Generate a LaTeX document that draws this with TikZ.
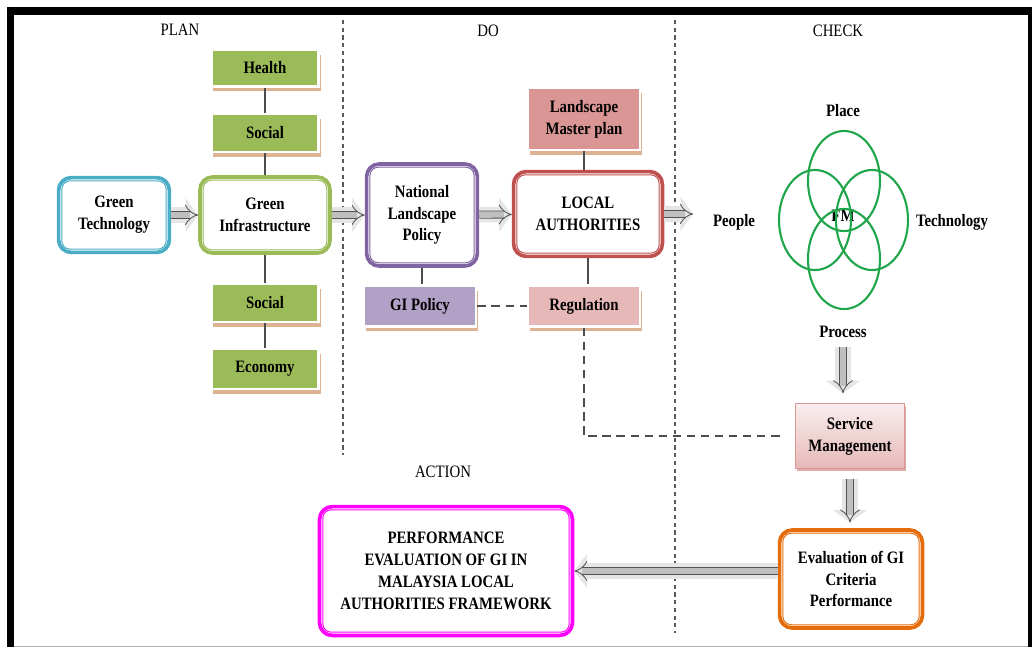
\documentclass[tikz,border=0pt]{standalone}
\usepackage{fontspec}
\setmainfont{Liberation Serif}[FakeStretch=0.85]
\usetikzlibrary{arrows.meta,shadows}

\definecolor{techblue}{HTML}{4BACC6}
\definecolor{infragreen}{HTML}{9BBB59}
\definecolor{policypurple}{HTML}{8064A2}
\definecolor{laured}{HTML}{C0504D}
\definecolor{perfmag}{HTML}{FF00FF}
\definecolor{evalorange}{HTML}{E46C0A}
\definecolor{shadowtan}{HTML}{DDB394}
\definecolor{masterfill}{HTML}{D99694}
\definecolor{gipolfill}{HTML}{B2A1C7}
\definecolor{regfill}{HTML}{E6B9B8}
\definecolor{venngreen}{HTML}{1FA64A}

\tikzset{
  txt/.style={font=\fontsize{12.4}{15.5}\selectfont\bfseries, align=center, inner sep=0pt},
  phase/.style={font=\fontsize{12.4}{15.5}\selectfont},
  bigbox/.style={txt, draw=#1, line width=2.6pt, rounded corners=9pt, fill=white},
  tagbox/.style={txt, fill=#1, draw=white, line width=2pt,
    general shadow={fill=shadowtan, shadow xshift=1.5pt, shadow yshift=-3.5pt}},
  link/.style={draw=gray!60!black, line width=1.2pt},
  dashlink/.style={draw=gray!60!black, line width=1.4pt, dash pattern=on 6pt off 4pt},
  divider/.style={draw=gray!70!black, line width=0.8pt, dash pattern=on 3pt off 2.5pt},
  flow/.style={preaction={draw=gray!20, line width=11pt, -{Triangle[length=9pt,width=24pt]}},
    draw=gray!65!black, line width=0.6pt, double=gray!50, double distance=4.5pt, -{Implies}},
  venn/.style={draw=venngreen, line width=1.5pt}
}

\begin{document}
\begin{tikzpicture}[x=0.025cm, y=-0.025cm]
\useasboundingbox (0,0) rectangle (1032,647);

% frame
\fill[black] (7,7) rectangle (1032,15);
\fill[black] (7,7) rectangle (14,647);
\fill[black] (1028,7) rectangle (1032,647);
\draw[gray!60] (14,646) -- (1028,646);

% phases
\node[phase] (plan) at (180,30) {PLAN};
\node[phase] (do) at (488,31) {DO};
\node[phase] (check) at (838,31) {CHECK};
\node[phase] (action) at (443,472) {ACTION};
\draw[divider] (343,20) -- (343,455);
\draw[divider] (675,20) -- (675,633);

% plan
\node[bigbox=techblue, minimum width=2.77cm, minimum height=1.87cm] (gtech) at (114,215) {Green\\Technology};
\node[bigbox=infragreen, minimum width=3.25cm, minimum height=1.9cm] (ginfra) at (265,215) {Green\\Infrastructure};
\node[tagbox=infragreen, minimum width=2.68cm, minimum height=0.92cm] (health) at (265,68) {Health};
\node[tagbox=infragreen, minimum width=2.68cm, minimum height=0.95cm] (social) at (265,133) {Social};
\node[tagbox=infragreen, minimum width=2.68cm, minimum height=0.95cm] (socialb) at (265,303) {Social};
\node[tagbox=infragreen, minimum width=2.68cm, minimum height=1.0cm] (economy) at (265,369) {Economy};

% do
\node[bigbox=policypurple, minimum width=2.77cm, minimum height=2.55cm] (nlp) at (422,215) {National\\Landscape\\Policy};
\node[bigbox=laured, minimum width=3.72cm, minimum height=2.12cm] (la) at (588,214) {LOCAL\\AUTHORITIES};
\node[tagbox=masterfill, minimum width=2.8cm, minimum height=1.55cm] (master) at (584,119) {Landscape\\Master plan};
\node[tagbox=gipolfill, minimum width=2.8cm, minimum height=1.02cm] (gipol) at (420,306) {GI Policy};
\node[tagbox=regfill, minimum width=2.8cm, minimum height=1.02cm] (reg) at (584,306) {Regulation};

% check
\node[txt] (fm) at (843,216) {FM};
\draw[venn] (844,181) ellipse [x radius=0.9cm, y radius=1.25cm];
\draw[venn] (815,220) ellipse [x radius=0.9cm, y radius=1.25cm];
\draw[venn] (872,220) ellipse [x radius=0.9cm, y radius=1.25cm];
\draw[venn] (844,259) ellipse [x radius=0.9cm, y radius=1.25cm];
\node[txt] (place) at (843,111) {Place};
\node[txt] (people) at (734,222) {People};
\node[txt] (techno) at (952,222) {Technology};
\node[txt] (process) at (843,332) {Process};
\node[txt, draw=masterfill, line width=0.6pt, top color=regfill!25, bottom color=regfill,
  minimum width=2.72cm, minimum height=1.62cm,
  general shadow={fill=masterfill!80, shadow xshift=1pt, shadow yshift=-2pt}] (serv) at (850,436) {Service\\Management};
\node[bigbox=evalorange, minimum width=3.57cm, minimum height=2.45cm] (eval) at (851,579) {Evaluation of GI\\Criteria\\Performance};

% action
\node[bigbox=perfmag, minimum width=6.32cm, minimum height=3.22cm] (perf) at (446,571) {PERFORMANCE\\EVALUATION OF GI IN\\MALAYSIA LOCAL\\AUTHORITIES FRAMEWORK};

% inner outlines
\foreach \n/\c in {gtech/techblue, ginfra/infragreen, nlp/policypurple, la/laured, eval/evalorange, perf/perfmag}
  \draw[\c, line width=0.7pt, rounded corners=6pt] ([shift={(3.6pt,3.6pt)}]\n.south west) rectangle ([shift={(-3.6pt,-3.6pt)}]\n.north east);

% links
\draw[link] (health) -- (social);
\draw[link] (social) -- (ginfra);
\draw[link] (ginfra) -- (socialb);
\draw[link] (socialb) -- (economy);
\draw[link] (nlp.south) -- (nlp.south |- gipol.north);
\draw[link] (master.south) -- (master.south |- la.north);
\draw[link] (la.south) -- (la.south |- reg.north);
\draw[dashlink] (gipol) -- (reg);
\draw[dashlink, shorten >=9pt] (reg.south) |- (serv.west);

% flow
\draw[flow] (gtech) -- (ginfra);
\draw[flow] (ginfra) -- (nlp);
\draw[flow] (nlp) -- (la);
\draw[flow, shorten >=14pt] (la.east) -- (la.east -| people.west);
\draw[flow, shorten <=6pt, shorten >=7pt] (process.south) -- (process.south |- serv.north);
\draw[flow, shorten <=7pt, shorten >=4pt] (serv.south) -- (serv.south |- eval.north);
\draw[flow] (eval.west |- perf) -- (perf.east);
\end{tikzpicture}
\end{document}
